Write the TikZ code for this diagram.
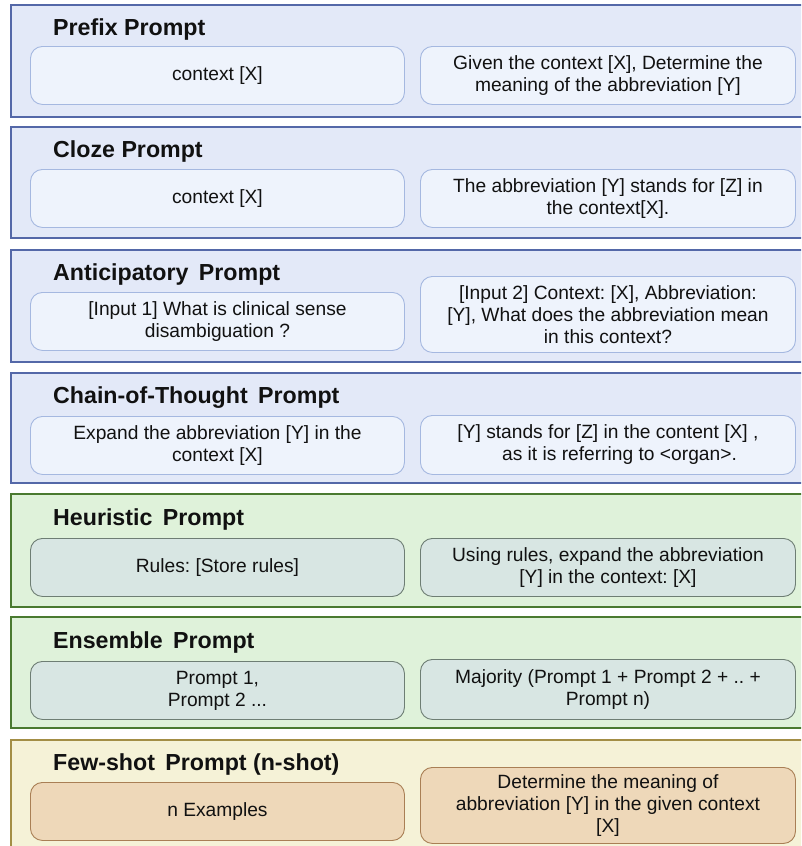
\documentclass[tikz,border=0pt]{standalone}
\usepackage{fontspec}
\setmainfont{Liberation Sans}
\frenchspacing
\definecolor{bpanel}{HTML}{E3E9F8}
\definecolor{bpanelb}{HTML}{5468A8}
\definecolor{bbox}{HTML}{EEF3FC}
\definecolor{bboxb}{HTML}{A5B8E0}
\definecolor{gpanel}{HTML}{DFF2DA}
\definecolor{gpanelb}{HTML}{4A7A30}
\definecolor{gbox}{HTML}{D8E6E3}
\definecolor{gboxb}{HTML}{6E7E74}
\definecolor{ypanel}{HTML}{F5F2D7}
\definecolor{ypanelb}{HTML}{A38E45}
\definecolor{ybox}{HTML}{EED8B9}
\definecolor{yboxb}{HTML}{A97F55}
\definecolor{txt}{HTML}{111111}
\tikzset{
  panel/.style={draw, line width=2pt, anchor=north west, minimum width=800pt, inner sep=0pt},
  bluepanel/.style={panel, fill=bpanel, draw=bpanelb},
  greenpanel/.style={panel, fill=gpanel, draw=gpanelb},
  yellowpanel/.style={panel, fill=ypanel, draw=ypanelb},
  inbox/.style={draw, line width=0.9pt, rounded corners=12pt, anchor=north west, align=center, inner sep=0pt, text=txt, font=\fontsize{19.2}{22}\selectfont\frenchspacing},
  bluebox/.style={inbox, fill=bbox, draw=bboxb},
  greenbox/.style={inbox, fill=gbox, draw=gboxb},
  yellowbox/.style={inbox, fill=ybox, draw=yboxb},
  ptitle/.style={anchor=base west, inner sep=0pt, text=txt, font=\fontsize{23.2}{26}\selectfont\bfseries},
}
\newcommand{\gap}{\hspace{0.45em}}
\begin{document}
\begin{tikzpicture}[x=1pt,y=-1pt]
\useasboundingbox (0,0) rectangle (801,846);
\clip (0,0) rectangle (801,846);
\fill[white] (0,0) rectangle (801,846);

% Panel 1
\node[bluepanel, minimum height=112pt] (p1) at (10,4) {};
\node[ptitle] (t1) at (53,35) {Prefix Prompt};
\node[bluebox, minimum width=374pt, minimum height=58pt] (l1) at (30,46) {context [X]};
\node[bluebox, minimum width=375pt, minimum height=58pt] (r1) at (420,46) {Given the context [X], Determine the\\meaning of the abbreviation [Y]};

% Panel 2
\node[bluepanel, minimum height=111pt] (p2) at (10,126) {};
\node[ptitle] (t2) at (53,157) {Cloze Prompt};
\node[bluebox, minimum width=374pt, minimum height=58pt] (l2) at (30,169) {context [X]};
\node[bluebox, minimum width=375pt, minimum height=58pt] (r2) at (420,169) {The abbreviation [Y] stands for [Z] in\\the context[X].};

% Panel 3
\node[bluepanel, minimum height=112pt] (p3) at (10,249) {};
\node[ptitle] (t3) at (53,280) {Anticipatory\gap Prompt};
\node[bluebox, minimum width=374pt, minimum height=58pt] (l3) at (30,292) {[Input 1] What is clinical sense\\disambiguation ?};
\node[bluebox, minimum width=375pt, minimum height=76pt] (r3) at (420,276) {[Input 2] Context: [X], Abbreviation:\\{}[Y], What does the abbreviation mean\\in this context?};

% Panel 4
\node[bluepanel, minimum height=110pt] (p4) at (10,372) {};
\node[ptitle] (t4) at (53,403) {Chain-of-Thought\gap Prompt};
\node[bluebox, minimum width=374pt, minimum height=58pt] (l4) at (30,416) {Expand the abbreviation [Y] in the\\context [X]};
\node[bluebox, minimum width=375pt, minimum height=59pt] (r4) at (420,415) {[Y] stands for [Z] in the content [X] ,\\\hspace*{1.2em}as it is referring to <organ>.};

% Panel 5
\node[greenpanel, minimum height=113pt] (p5) at (10,493) {};
\node[ptitle] (t5) at (53,525) {Heuristic\gap Prompt};
\node[greenbox, minimum width=374pt, minimum height=58pt] (l5) at (30,538) {Rules: [Store rules]};
\node[greenbox, minimum width=375pt, minimum height=58pt] (r5) at (420,538) {Using rules, expand the abbreviation\\{}[Y] in the context: [X]};

% Panel 6
\node[greenpanel, minimum height=111pt] (p6) at (10,616) {};
\node[ptitle] (t6) at (53,648) {Ensemble\gap Prompt};
\node[greenbox, minimum width=374pt, minimum height=58pt] (l6) at (30,661) {Prompt 1,\\Prompt 2 ...};
\node[greenbox, minimum width=375pt, minimum height=60pt] (r6) at (420,659) {Majority (Prompt 1 + Prompt 2 + .. +\\Prompt n)};

% Panel 7
\node[yellowpanel, minimum height=130pt] (p7) at (10,739) {};
\node[ptitle] (t7) at (53,770) {Few-shot\gap Prompt (n-shot)};
\node[yellowbox, minimum width=374pt, minimum height=58pt] (l7) at (30,782) {n Examples};
\node[yellowbox, minimum width=375pt, minimum height=76pt] (r7) at (420,767) {Determine the meaning of\\abbreviation [Y] in the given context\\{}[X]};
\end{tikzpicture}
\end{document}
